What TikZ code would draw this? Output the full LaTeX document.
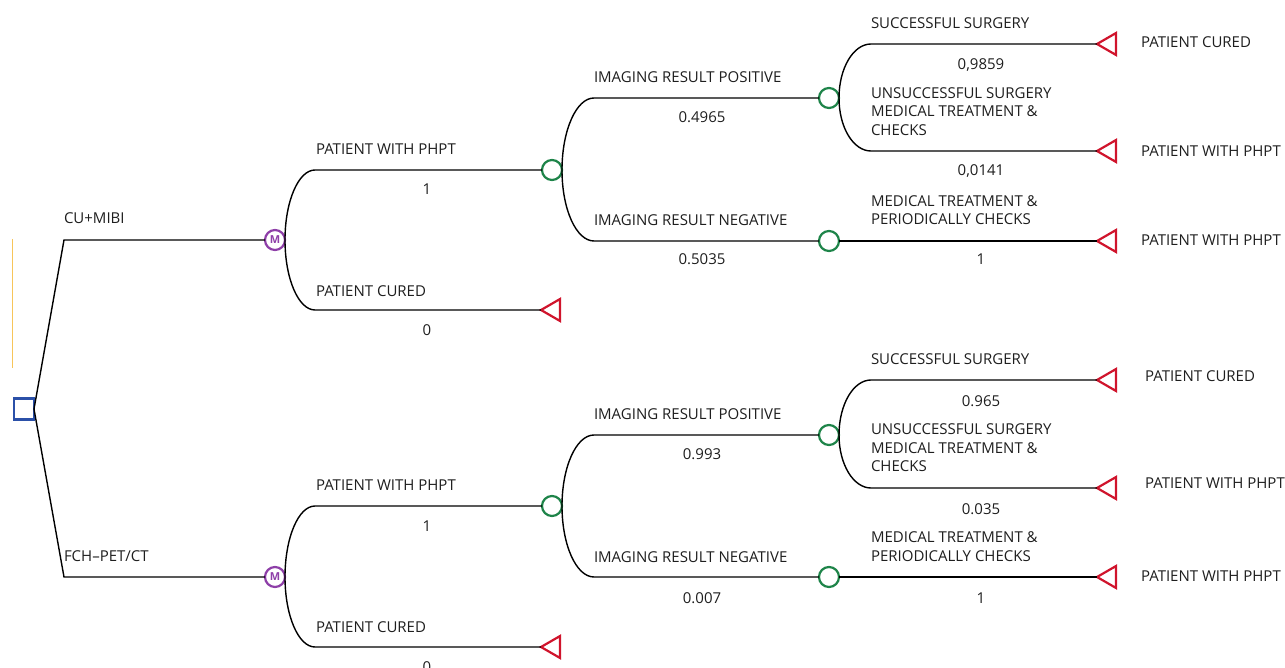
\documentclass[tikz,border=0pt]{standalone}
\usepackage{fontspec}
\setmainfont{Open Sans}
\usetikzlibrary{shapes.geometric}
\definecolor{decblue}{HTML}{2B50A8}
\definecolor{chgreen}{HTML}{1E8449}
\definecolor{mpurple}{HTML}{8E3FA8}
\definecolor{termred}{HTML}{D0142C}
\definecolor{orangeln}{HTML}{F7C55A}
\definecolor{txt}{HTML}{1E1E1E}
\tikzset{
  lbl/.style={anchor=base west, inner sep=0pt, outer sep=0pt, text=txt, font=\fontsize{15}{18.5}\selectfont, align=left},
  val/.style={anchor=base, inner sep=0pt, outer sep=0pt, text=txt, font=\fontsize{15}{18.5}\selectfont},
  branch/.style={draw=black, line width=1.4pt},
  decbox/.style={draw=decblue, line width=2.2pt, minimum width=20pt, minimum height=21pt, inner sep=0pt, outer sep=0pt},
  chance/.style={circle, draw=chgreen, line width=2.2pt, minimum size=20pt, inner sep=0pt, outer sep=0pt},
  markov/.style={circle, draw=mpurple, line width=2.2pt, minimum size=20pt, inner sep=0pt, outer sep=0pt, text=mpurple, font=\bfseries\fontsize{11}{11}\selectfont},
  term/.style={isosceles triangle, shape border rotate=180, isosceles triangle apex angle=60, draw=termred, line width=2.2pt, minimum height=19pt, inner sep=0pt, outer sep=0pt, anchor=apex}
}
\begin{document}
\begin{tikzpicture}[x=1pt,y=-1pt]
\useasboundingbox (0,0) rectangle (1285,668);
% orange marker
\draw[orangeln, line width=1pt] (12.3,239) -- (12.3,368);
% decision
\node[decbox] (D) at (24,409) {};
\coordinate (ua) at (64,240);
\coordinate (la) at (64,577);
\node[markov] (M1) at (275,240) {M};
\node[markov] (M2) at (275,577) {M};
\draw[branch] (D.east) -- (ua) -- (M1.west);
\draw[branch] (D.east) -- (la) -- (M2.west);
\node[lbl] (lCU) at (64,224) {CU+MIBI};
\node[lbl] (lFCH) at (64,561.5) {FCH–PET/CT};

% ===== upper tree =====
\coordinate (u1) at (315,170);
\coordinate (u2) at (315,310);
\node[chance] (C1) at (552,170) {};
\node[term] (T1) at (541,310) {};
\draw[branch] (M1.east) .. controls +(0,-38.6) and +(-16.6,0) .. (u1) -- (C1.west);
\draw[branch] (M1.east) .. controls +(0,38.6) and +(-16.6,0) .. (u2) -- (T1.apex);
\node[lbl] (lu1) at (316,154.5) {PATIENT WITH PHPT};
\node[val] (vu1) at (427,195) {1};
\node[lbl] (lu2) at (316,296.5) {PATIENT CURED};
\node[val] (vu2) at (427,335) {0};

\coordinate (u3) at (594,98);
\coordinate (u4) at (594,241);
\node[chance] (C2) at (829,98) {};
\node[chance] (C3) at (829,241) {};
\draw[branch] (C1.east) .. controls +(0,-39.7) and +(-17.7,0) .. (u3) -- (C2.west);
\draw[branch] (C1.east) .. controls +(0,39.5) and +(-17.7,0) .. (u4) -- (C3.west);
\node[lbl] (lu3) at (594,82.5) {IMAGING RESULT POSITIVE};
\node[val] (vu3) at (702,123) {0.4965};
\node[lbl] (lu4) at (594,225.5) {IMAGING RESULT NEGATIVE};
\node[val] (vu4) at (702,265) {0.5035};

\coordinate (u5) at (871,44);
\coordinate (u6) at (871,151);
\node[term] (T2) at (1097,44) {};
\node[term] (T3) at (1097,151) {};
\node[term] (T4) at (1097,241) {};
\draw[branch] (C2.east) .. controls +(0,-29.8) and +(-17.7,0) .. (u5) -- (T2.apex);
\draw[branch] (C2.east) .. controls +(0,29.5) and +(-17.7,0) .. (u6) -- (T3.apex);
\draw[branch] (C3.east) -- (T4.apex);
\node[lbl] (lu5) at (871,28.5) {SUCCESSFUL SURGERY};
\node[val] (vu5) at (981,70) {0,9859};
\node[lbl, anchor=north west] (lu6) at (871,87.5) {UNSUCCESSFUL SURGERY\\MEDICAL TREATMENT \&\\CHECKS};
\node[val] (vu6) at (981,176) {0,0141};
\node[lbl, anchor=north west] (lu7) at (871,195.5) {MEDICAL TREATMENT \&\\PERIODICALLY CHECKS};
\node[val] (vu7) at (981,265) {1};
\node[lbl] (eu1) at (1141,47.5) {PATIENT CURED};
\node[lbl] (eu2) at (1141,156.5) {PATIENT WITH PHPT};
\node[lbl] (eu3) at (1141,245.5) {PATIENT WITH PHPT};

% ===== lower tree =====
\coordinate (b1) at (315,506);
\coordinate (b2) at (315,647);
\node[chance] (C4) at (552,506) {};
\node[term] (T5) at (541,647) {};
\draw[branch] (M2.east) .. controls +(0,-39.2) and +(-16.6,0) .. (b1) -- (C4.west);
\draw[branch] (M2.east) .. controls +(0,38.6) and +(-16.6,0) .. (b2) -- (T5.apex);
\node[lbl] (lb1) at (316,490.5) {PATIENT WITH PHPT};
\node[val] (vb1) at (427,531) {1};
\node[lbl] (lb2) at (316,632.5) {PATIENT CURED};
\node[val] (vb2) at (427,672) {0};

\coordinate (b3) at (594,435);
\coordinate (b4) at (594,577);
\node[chance] (C5) at (829,435) {};
\node[chance] (C6) at (829,577) {};
\draw[branch] (C4.east) .. controls +(0,-39.2) and +(-17.7,0) .. (b3) -- (C5.west);
\draw[branch] (C4.east) .. controls +(0,39.2) and +(-17.7,0) .. (b4) -- (C6.west);
\node[lbl] (lb3) at (594,419.5) {IMAGING RESULT POSITIVE};
\node[val] (vb3) at (702,459) {0.993};
\node[lbl] (lb4) at (594,562.5) {IMAGING RESULT NEGATIVE};
\node[val] (vb4) at (702,603) {0.007};

\coordinate (b5) at (871,380);
\coordinate (b6) at (871,488);
\node[term] (T6) at (1097,380) {};
\node[term] (T7) at (1097,488) {};
\node[term] (T8) at (1097,577) {};
\draw[branch] (C5.east) .. controls +(0,-30.4) and +(-17.7,0) .. (b5) -- (T6.apex);
\draw[branch] (C5.east) .. controls +(0,29.2) and +(-17.7,0) .. (b6) -- (T7.apex);
\draw[branch] (C6.east) -- (T8.apex);
\node[lbl] (lb5) at (871,364.5) {SUCCESSFUL SURGERY};
\node[val] (vb5) at (981,406) {0.965};
\node[lbl, anchor=north west] (lb6) at (871,424) {UNSUCCESSFUL SURGERY\\MEDICAL TREATMENT \&\\CHECKS};
\node[val] (vb6) at (981,514) {0.035};
\node[lbl, anchor=north west] (lb7) at (871,532) {MEDICAL TREATMENT \&\\PERIODICALLY CHECKS};
\node[val] (vb7) at (981,603) {1};
\node[lbl] (eb1) at (1145,381.5) {PATIENT CURED};
\node[lbl] (eb2) at (1145,488.5) {PATIENT WITH PHPT};
\node[lbl] (eb3) at (1141,581.5) {PATIENT WITH PHPT};
\end{tikzpicture}
\end{document}
